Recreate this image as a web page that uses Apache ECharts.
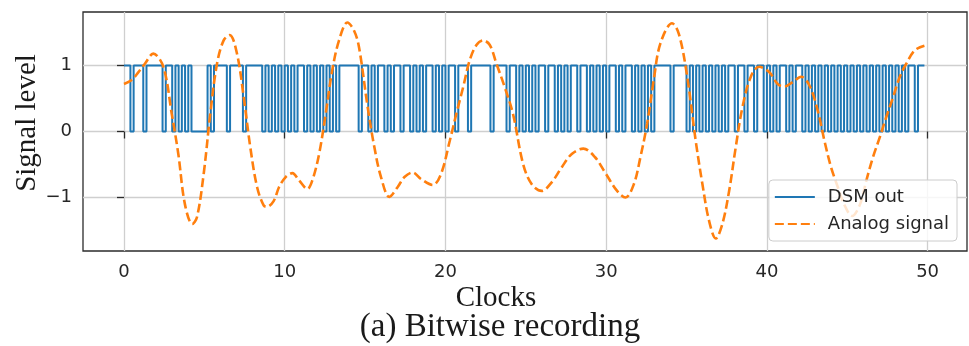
<!DOCTYPE html>
<html>
<head>
<meta charset="utf-8">
<script src="https://cdn.jsdelivr.net/npm/echarts@6.0.0/dist/echarts.min.js"></script>
<style>
html,body{margin:0;padding:0;background:#ffffff;}
#chart{width:969px;height:346px;}
</style>
</head>
<body>
<div id="chart"></div>
<script>
// ---- data ----
const xTicks = [0, 10, 20, 30, 40, 50];
const yTicks = [-1, 0, 1];
const dsmStep = 0.2;            // clocks per DSM sample
const dsmBits = [
  1,1,0,1,1, 1,0,1,1,1, 1,1,0,1,1, 0,1,0,1,0, 1,0,0,0,0,
  0,1,0,1,1, 1,1,0,1,1, 1,1,0,1,1, 1,1,1,0,1, 0,1,0,1,0,
  1,0,1,0,1, 1,0,1,0,1, 0,1,0,1,0, 1,0,1,1,1, 1,1,1,0,1,
  1,0,1,0,1, 1,0,1,0,1, 1,0,1,1,0, 1,0,1,0,1, 1,0,1,0,1,
  0,1,1,0,1, 1,1,0,1,1, 1,1,1,1,0, 1,1,1,1,0, 1,1,0,1,0,
  1,0,1,0,1, 1,0,1,1,0, 1,0,1,0,1, 1,0,1,1,0, 1,0,1,0,1,
  0,1,1,0,1, 0,1,1,0,1, 0,1,0,1,0, 1,1,1,1,1, 0,1,1,1,1,
  0,1,0,1,0, 1,0,1,0,1, 0,1,0,1,1, 0,1,1,0,1, 1,0,1,1,0,
  1,0,1,0,1, 1,0,1,0,1, 1,0,1,0,1, 0,1,0,1,0, 1,0,1,0,1,
  0,1,0,1,0, 1,0,1,0,1, 0,1,0,1,0, 1,0,1,0,1, 1,0,1,1
];
const analogX = [0, 0.48, 0.9, 1.31, 1.82, 2.45, 2.97, 3.38, 3.79, 4.25, 4.54, 4.96, 5.37, 5.79, 6.2, 6.58,
  7.03, 7.45, 7.86, 8.28, 8.69, 8.9, 9.32, 9.65, 10.06, 10.48, 10.89, 11.41, 11.72, 12.14, 12.55, 12.96,
  13.38, 13.9, 14.31, 14.62, 15.16, 15.58, 15.99, 16.51, 17.03, 17.45, 17.96, 18.48, 19.21, 19.73, 20.27,
  20.68, 21.1, 21.51, 21.93, 22.34, 22.76, 23.17, 23.69, 24.2, 24.83, 25.37, 25.99, 26.61, 27.24, 27.86,
  28.58, 29.31, 29.93, 30.68, 31.2, 31.72, 32.13, 32.55, 32.96, 33.37, 34.1, 34.52, 35.03, 35.57, 35.99,
  36.4, 36.82, 37.23, 37.65, 38.06, 38.48, 39.0, 39.51, 40.14, 40.67, 41.09, 41.61, 42.13, 42.64, 43.16,
  43.58, 43.99, 44.41, 44.8, 45.3, 45.8, 46.19, 46.6, 47.02, 47.43, 47.85, 48.27, 48.68, 49.2, 49.8];
const analogY = [0.72, 0.78, 0.9, 1.03, 1.18, 0.98, 0.27, -0.34, -1.10, -1.40, -1.30, -0.64, 0.27, 1.03, 1.38, 1.46,
  1.18, 0.52, -0.24, -0.84, -1.12, -1.14, -1.05, -0.84, -0.69, -0.63, -0.74, -0.87, -0.74, -0.34, 0.27, 0.93,
  1.38, 1.65, 1.53, 1.28, 0.37, -0.24, -0.69, -0.99, -0.84, -0.69, -0.62, -0.72, -0.81, -0.64, -0.14,
  0.27, 0.67, 1.08, 1.31, 1.38, 1.31, 1.03, 0.67, 0.27, -0.49, -0.80, -0.90, -0.77, -0.54, -0.34,
  -0.26, -0.39, -0.62, -0.90, -1.0, -0.80, -0.39, 0.12, 0.78, 1.33, 1.64, 1.48, 0.85, -0.14, -0.80,
  -1.35, -1.62, -1.40, -0.90, -0.24, 0.37, 0.83, 0.98, 0.90, 0.72, 0.68, 0.75, 0.83, 0.70, 0.32,
  -0.14, -0.54, -0.84, -1.1, -1.28, -1.1, -0.74, -0.39, -0.09, 0.22, 0.52, 0.83, 1.03, 1.23, 1.30];
const seriesNames = ['DSM out', 'Analog signal'];
const xTitle = 'Clocks';
const yTitle = 'Signal level';
const caption = '(a) Bitwise recording';

// ---- build series data ----
const dsmData = dsmBits.map((b, i) => [+(i * dsmStep).toFixed(2), b]);
dsmData.push([+(dsmBits.length * dsmStep).toFixed(2), dsmBits[dsmBits.length - 1]]);
const analogData = analogX.map((x, i) => [x, analogY[i]]);

const chart = echarts.init(document.getElementById('chart'), null, {renderer: 'canvas'});
const fmt = v => (v < 0 ? '\u2212' + Math.abs(v) : String(v));
const tickFont = {fontFamily: 'DejaVu Sans', fontSize: 18, color: '#262626'};
chart.setOption({
  animation: false,
  backgroundColor: '#ffffff',
  grid: {left: 83, top: 12, width: 884, height: 239, show: true,
         borderColor: '#2b2b2b', borderWidth: 1.3, backgroundColor: 'transparent'},
  xAxis: {
    type: 'value', min: -2.55, max: 52.45,
    axisLine: {show: false},
    axisTick: {show: true, inside: false, length: 7, lineStyle: {color: '#2b2b2b', width: 1.3}, customValues: xTicks},
    axisLabel: Object.assign({margin: 12, customValues: xTicks, formatter: fmt}, tickFont),
    splitLine: {show: true, lineStyle: {color: '#cfcfcf', width: 1.3}}
  },
  yAxis: {
    type: 'value', min: -1.81, max: 1.81,
    axisLine: {show: false},
    axisTick: {show: true, inside: false, length: 7, lineStyle: {color: '#2b2b2b', width: 1.3}, customValues: yTicks},
    axisLabel: Object.assign({margin: 11, customValues: yTicks, formatter: fmt}, tickFont),
    splitLine: {show: true, lineStyle: {color: '#cfcfcf', width: 1.3}}
  },
  legend: {
    orient: 'vertical', right: 12, top: 180,
    padding: [8, 8, 8, 5], itemGap: 9, itemWidth: 40, itemHeight: 14,
    backgroundColor: 'rgba(255,255,255,0.8)', borderColor: '#cccccc', borderWidth: 1, borderRadius: 4,
    itemStyle: {color: 'transparent', borderColor: 'transparent', borderWidth: 0, opacity: 0},
    textStyle: {fontFamily: 'DejaVu Sans', fontSize: 18, color: '#262626', padding: [0, 0, 0, 8]},
    data: seriesNames
  },
  series: [
    {name: seriesNames[0], type: 'line', step: 'end', data: dsmData, symbol: 'none',
     lineStyle: {color: '#1f77b4', width: 2}, itemStyle: {color: '#1f77b4'}, z: 2},
    {name: seriesNames[1], type: 'line', smooth: 0.35, data: analogData, symbol: 'none',
     lineStyle: {color: '#ff7f0e', width: 2.6, type: [9, 4]}, itemStyle: {color: '#ff7f0e'}, z: 3}
  ],
  graphic: [
    {type: 'text', x: 27, y: 123, rotation: Math.PI / 2,
     style: {text: yTitle, align: 'center', verticalAlign: 'middle', fill: '#1a1a1a',
             font: '29px "Liberation Serif"'}},
    {type: 'text', x: 496, y: 298,
     style: {text: xTitle, align: 'center', verticalAlign: 'middle', fill: '#1a1a1a', font: '29px "Liberation Serif"'}},
    {type: 'text', x: 500, y: 327,
     style: {text: caption, align: 'center', verticalAlign: 'middle', fill: '#1a1a1a', font: '33px "Liberation Serif"'}}
  ]
});
</script>
</body>
</html>
